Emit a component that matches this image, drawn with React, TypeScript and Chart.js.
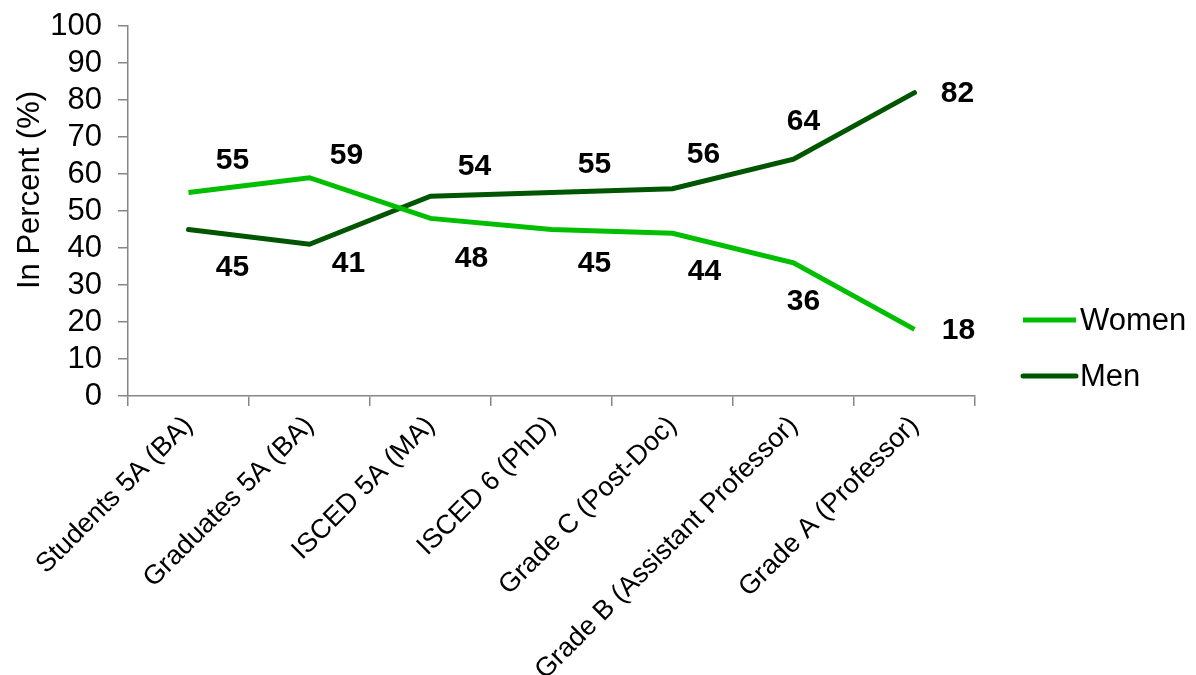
import React, { useEffect, useRef } from "react";
import { Chart, registerables } from "chart.js";

Chart.register(...registerables);

const categories = [
  "Students 5A (BA)",
  "Graduates 5A (BA)",
  "ISCED 5A (MA)",
  "ISCED 6 (PhD)",
  "Grade C (Post-Doc)",
  "Grade B (Assistant Professor)",
  "Grade A (Professor)",
];
const women = [55, 59, 48, 45, 44, 36, 18];
const men = [45, 41, 54, 55, 56, 64, 82];
const seriesNames = ["Women", "Men"];
const seriesColors = ["#00BF00", "#005500"];
const yAxisTitle = "In Percent (%)";

const FONT = '"Liberation Sans", Arial, Helvetica, sans-serif';

// label offsets (style): [dx, dy] from each point, per dataset
const labelOffsets = [
  [[44, -32], [37, -22], [41, 40], [43, 34], [32, 39], [10, 39], [44, 1]],
  [[44, 38], [39, 19], [44, -29], [43, -28], [31, -34], [10, -37], [43, 1]],
];

const dataLabelPlugin = {
  id: "dataLabels",
  afterDatasetsDraw(chart: any) {
    const ctx = chart.ctx;
    ctx.save();
    ctx.font = `bold 30px ${FONT}`;
    ctx.fillStyle = "#000";
    ctx.textAlign = "center";
    ctx.textBaseline = "middle";
    chart.data.datasets.forEach((ds: any, di: number) => {
      const meta = chart.getDatasetMeta(di);
      meta.data.forEach((pt: any, i: number) => {
        const off = labelOffsets[di][i];
        ctx.fillText(String(ds.data[i]), pt.x + off[0], pt.y + off[1]);
      });
    });
    ctx.restore();
  },
};

const yTitlePlugin = {
  id: "yTitle",
  afterDraw(chart: any) {
    const ctx = chart.ctx;
    const area = chart.chartArea;
    ctx.save();
    ctx.translate(30, (area.top + area.bottom) / 2 - 21);
    ctx.rotate(-Math.PI / 2);
    ctx.font = `31px ${FONT}`;
    ctx.fillStyle = "#000";
    ctx.textAlign = "center";
    ctx.textBaseline = "middle";
    ctx.fillText(yAxisTitle, 0, 0);
    ctx.restore();
  },
};

const legendPlugin = {
  id: "customLegend",
  afterDraw(chart: any) {
    const ctx = chart.ctx;
    const x0 = chart.chartArea.right + 48;
    const lineLen = 53;
    const y0 = 320;
    const gap = 56;
    ctx.save();
    ctx.font = `31px ${FONT}`;
    ctx.textAlign = "left";
    ctx.textBaseline = "middle";
    chart.data.datasets.forEach((ds: any, di: number) => {
      const y = y0 + di * gap;
      ctx.strokeStyle = ds.borderColor;
      ctx.lineWidth = 5;
      ctx.lineCap = di === 1 ? "round" : "butt";
      ctx.beginPath();
      ctx.moveTo(x0, y);
      ctx.lineTo(x0 + lineLen, y);
      ctx.stroke();
      ctx.fillStyle = "#000";
      ctx.fillText(ds.label, x0 + lineLen + 4, y + 1);
    });
    ctx.restore();
  },
};

export default function App() {
  const ref = useRef<HTMLCanvasElement | null>(null);

  useEffect(() => {
    if (!ref.current) return;
    const chart = new Chart(ref.current, {
      type: "line",
      data: {
        labels: categories,
        datasets: [
          {
            label: seriesNames[0],
            data: women,
            borderColor: seriesColors[0],
            backgroundColor: seriesColors[0],
            borderWidth: 5,
            pointRadius: 0,
            tension: 0,
            borderJoinStyle: "miter",
          },
          {
            label: seriesNames[1],
            data: men,
            borderColor: seriesColors[1],
            backgroundColor: seriesColors[1],
            borderWidth: 5,
            pointRadius: 0,
            tension: 0,
            borderCapStyle: "round",
            borderJoinStyle: "miter",
          },
        ],
      },
      options: {
        responsive: false,
        animation: false,
        layout: { padding: { top: 26, right: 221, bottom: 0, left: 0 } },
        plugins: {
          legend: { display: false },
          tooltip: { enabled: false },
        },
        scales: {
          x: {
            offset: true,
            grid: {
              offset: true,
              drawOnChartArea: false,
              drawTicks: true,
              tickLength: 10,
              color: "#868686",
              lineWidth: 1.5,
            },
            border: { color: "#868686", width: 1.5 },
            ticks: {
              color: "#000",
              font: { family: FONT, size: 27 },
              minRotation: 45,
              maxRotation: 45,
              autoSkip: false,
              padding: 4,
            },
            afterFit(scale: any) {
              scale.height = 279;
              scale.paddingLeft = 0;
              scale.paddingRight = 0;
            },
          },
          y: {
            min: 0,
            max: 100,
            ticks: {
              stepSize: 10,
              autoSkip: false,
              color: "#000",
              font: { family: FONT, size: 31 },
              padding: 16,
            },
            grid: {
              drawOnChartArea: false,
              drawTicks: true,
              tickLength: 10,
              color: "#868686",
              lineWidth: 1.5,
            },
            border: { color: "#868686", width: 1.5 },
            afterFit(scale: any) {
              scale.width = 128;
              scale.paddingTop = 0;
              scale.paddingBottom = 0;
            },
          },
        },
      },
      plugins: [dataLabelPlugin, yTitlePlugin, legendPlugin],
    } as any);
    return () => chart.destroy();
  }, []);

  return (
    <div style={{ position: "absolute", left: 0, top: 0, width: 1196, height: 675, background: "#fff" }}>
      <canvas ref={ref} width={1196} height={675} style={{ display: "block" }} />
    </div>
  );
}
